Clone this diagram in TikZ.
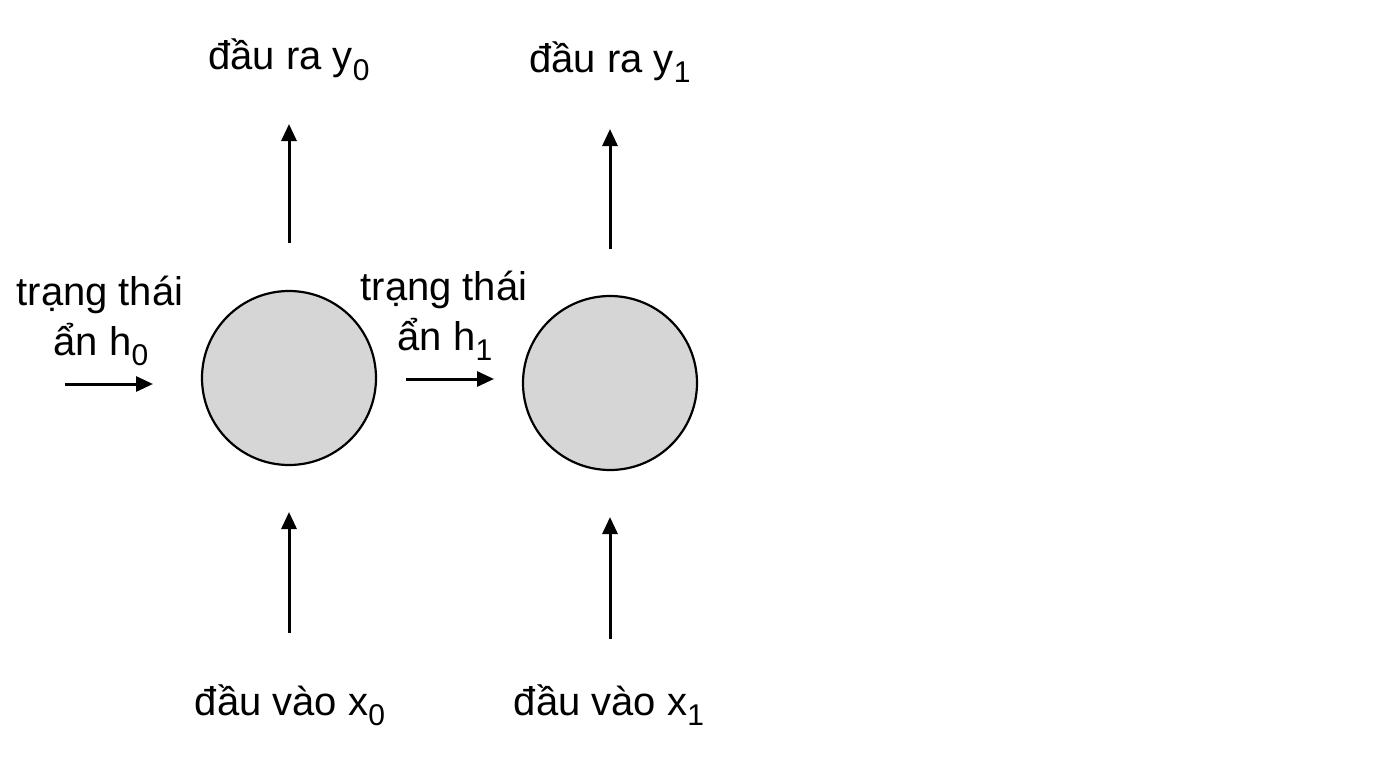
\documentclass[tikz,border=0pt]{standalone}
\usepackage{fontspec}
\setmainfont{Liberation Sans}
\usetikzlibrary{arrows.meta}
\newcommand{\sbs}[1]{\raisebox{-0.27em}{\fontsize{30}{30}\selectfont #1}}
\begin{document}
\begin{tikzpicture}[x=1pt,y=-1pt,
  cell/.style={circle,draw=black,line width=2.2pt,fill=cellgray,minimum size=174pt,inner sep=0pt},
  lbl/.style={anchor=base,inner sep=0pt,font=\fontsize{40}{48}\selectfont},
  arr/.style={line width=3pt,-{Triangle[length=17pt,width=15pt]}}]
\definecolor{cellgray}{HTML}{D6D6D6}
\useasboundingbox (0,0) rectangle (1380,768);
% cells
\node[cell] (c0) at (289,378) {};
\node[cell] (c1) at (610,383) {};
% labels
\node[lbl] (y0) at (289,70) {đầu ra y\sbs{0}};
\node[lbl] (y1) at (610,72) {đầu ra y\sbs{1}};
\node[lbl] (x0) at (290,715) {đầu vào x\sbs{0}};
\node[lbl] (x1) at (609,715) {đầu vào x\sbs{1}};
\node[lbl] (h0a) at (100,305) {trạng thái};
\node[lbl] (h0b) at (101,355) {ẩn h\sbs{0}};
\node[lbl] (h1a) at (444,300) {trạng thái};
\node[lbl] (h1b) at (445,350) {ẩn h\sbs{1}};
% arrow end points
\coordinate (o0s) at (289,243); \coordinate (o0e) at (289,124);
\coordinate (o1s) at (610,249); \coordinate (o1e) at (610,129);
\coordinate (i0s) at (289,633); \coordinate (i0e) at (289,512);
\coordinate (i1s) at (610,639); \coordinate (i1e) at (610,517);
\coordinate (h0s) at (65,384);  \coordinate (h0e) at (153,384);
\coordinate (h1s) at (406,379); \coordinate (h1e) at (494,379);
\draw[arr] (o0s) -- (o0e);
\draw[arr] (o1s) -- (o1e);
\draw[arr] (i0s) -- (i0e);
\draw[arr] (i1s) -- (i1e);
\draw[arr] (h0s) -- (h0e);
\draw[arr] (h1s) -- (h1e);
\end{tikzpicture}
\end{document}
